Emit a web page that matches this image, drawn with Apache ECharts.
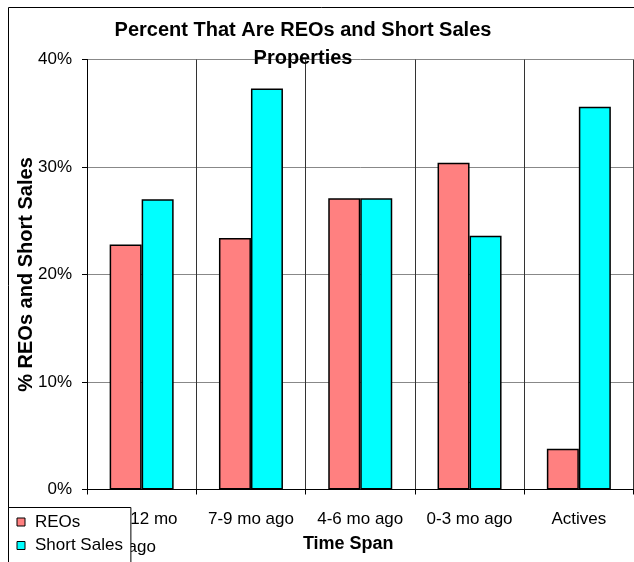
<!DOCTYPE html>
<html><head><meta charset="utf-8">
<script src="https://cdn.jsdelivr.net/npm/echarts@6/dist/echarts.min.js"></script>
<style>html,body{margin:0;padding:0;background:#fff}#c{width:634px;height:562px}</style>
</head><body><div id="c"></div>
<script>
const titleText = 'Percent That Are REOs and Short Sales\nProperties';
const categories = ['10-12 mo\nago', '7-9 mo ago', '4-6 mo ago', '0-3 mo ago', 'Actives'];
const seriesNames = ['REOs', 'Short Sales'];
const reos = [22.8, 23.4, 27.1, 30.4, 3.8];
const shortSales = [27.0, 37.3, 27.1, 23.6, 35.6];
const yTicks = [0, 10, 20, 30, 40];
const xAxisTitle = 'Time Span';
const yAxisTitle = '% REOs and Short Sales';

const FONT = '"Liberation Sans", Arial, sans-serif';
const chart = echarts.init(document.getElementById('c'), null, {renderer: 'canvas'});
chart.setOption({
  animation: false,
  backgroundColor: '#fff',
  textStyle: {fontFamily: FONT, color: '#000'},
  graphic: [{
    type: 'rect', z: -10, silent: true,
    shape: {x: 8.5, y: 7.5, width: 800, height: 800},
    style: {fill: 'none', stroke: '#000', lineWidth: 1}
  }],
  title: {
    text: titleText,
    left: 303, top: 16, textAlign: 'center',
    padding: 0,
    textStyle: {fontFamily: FONT, fontSize: 20, fontWeight: 'bold', color: '#000', lineHeight: 28, align: 'center'}
  },
  legend: {
    data: seriesNames,
    orient: 'vertical',
    left: 8.5, top: 507.5,
    height: 80,
    padding: [6, 8, 12, 8],
    itemGap: 6.5,
    itemWidth: 8, itemHeight: 8,
    icon: 'rect',
    backgroundColor: '#fff',
    borderColor: '#000', borderWidth: 1,
    itemStyle: {borderColor: '#000', borderWidth: 1},
    textStyle: {fontFamily: FONT, fontSize: 17, color: '#000', lineHeight: 17, padding: [0, 0, 0, 5]},
    z: 20
  },
  grid: {left: 87, top: 59.5, right: 0.5, bottom: 72.5, outerBoundsMode: 'none', containLabel: false},
  xAxis: {
    type: 'category',
    data: categories,
    name: xAxisTitle,
    nameLocation: 'middle',
    nameGap: 46,
    nameMoveOverlap: false,
    nameTextStyle: {fontFamily: FONT, fontSize: 18, fontWeight: 'bold', color: '#000', lineHeight: 18, padding: [0, 24, 0, 0]},
    axisLine: {show: true, lineStyle: {color: '#000', width: 1}},
    axisTick: {show: true, length: 5, lineStyle: {color: '#000'}},
    axisLabel: {fontFamily: FONT, fontSize: 17, color: '#000', margin: 16, lineHeight: 28, interval: 0},
    splitLine: {show: true, lineStyle: {color: '#333', width: 1}}
  },
  yAxis: {
    type: 'value',
    min: yTicks[0], max: yTicks[yTicks.length - 1], interval: yTicks[1] - yTicks[0],
    name: yAxisTitle,
    nameLocation: 'middle',
    nameGap: 51,
    nameMoveOverlap: false,
    nameTextStyle: {fontFamily: FONT, fontSize: 20, fontWeight: 'bold', color: '#000'},
    axisLine: {show: true, lineStyle: {color: '#000', width: 1}},
    axisTick: {show: true, length: 5, lineStyle: {color: '#000'}},
    axisLabel: {fontFamily: FONT, fontSize: 17, color: '#000', margin: 15, formatter: '{value}%'},
    splitLine: {show: true, lineStyle: {color: '#888', width: 1}}
  },
  series: [
    {name: seriesNames[0], type: 'bar', data: reos, barWidth: 32, barGap: '0%',
     itemStyle: {color: '#FF8080', borderColor: '#000', borderWidth: 1.5}},
    {name: seriesNames[1], type: 'bar', data: shortSales, barWidth: 32, barGap: '0%',
     itemStyle: {color: '#00FFFF', borderColor: '#000', borderWidth: 1.5}}
  ]
});
</script></body></html>
